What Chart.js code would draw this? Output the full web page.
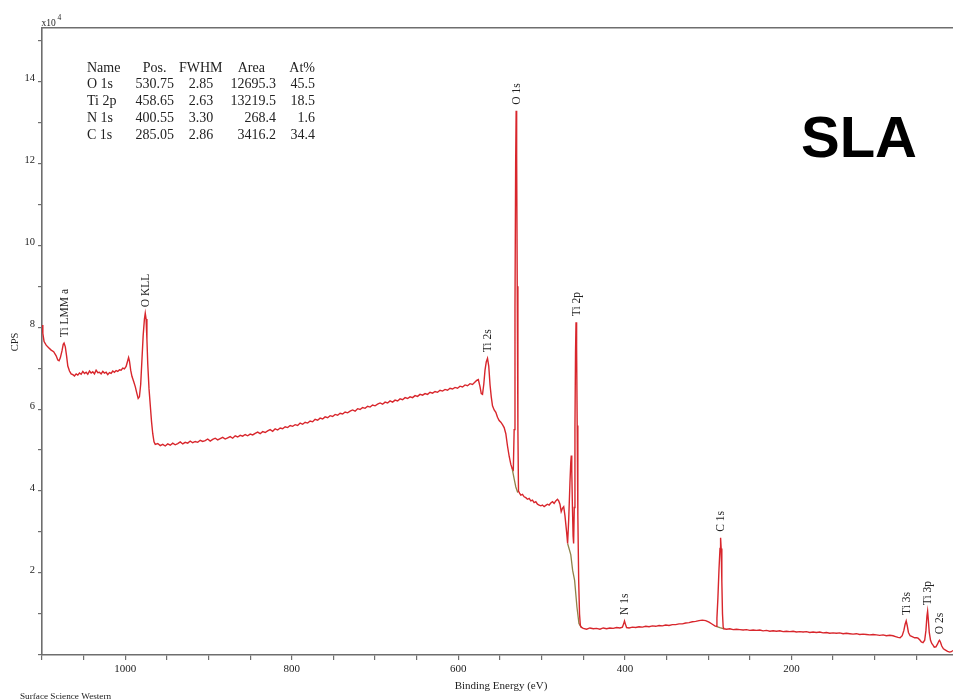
<!DOCTYPE html>
<html><head><meta charset="utf-8">
<script src="https://cdn.jsdelivr.net/npm/chart.js@4.4.0/dist/chart.umd.min.js"></script>
<style>html,body{margin:0;padding:0;background:#fff;} canvas{display:block;}</style>
</head><body>
<canvas id="c" width="953" height="700"></canvas>
<script>
// Binding energy (eV) and CPS (x10^4)
const energies = [
1100,1099,1097.5,1095,1092,1089,1086,1083,1081,1079.5,1078,1076,1074.5,1073.5,1072,1070.5,1069,1067,1065,1063,1061,1059,1057,1055,1053,1051,1049,1047,1045,1043,1041,1039,1037,1035,1033,1031,1029,1027,1025,1023,1021,1019,1017,1015,1013,1011,1009,1007,1005,1003,1001,999,997.5,996,995,993.5,992,990,988,986,984.5,983,981.5,980,978.5,977,976,975,974,973,971.5,970,968.5,967,965.5,964,
961,958,955,952,949,946,943,940,937,934,931,928,925,922,919,916,913,910,907,904,901,898,895,892,889,886,883,880,877,874,871,868,865,862,859,856,853,850,847,844,841,838,835,832,829,826,823,820,817,814,811,808,805,802,799,796,793,790,787,784,781,778,775,772,769,766,763,760,757,754,751,748,745,742,739,736,733,730,727,724,721,718,715,712,709,706,703,700,697,694,691,688,685,682,679,676,673,670,667,664,661,658,655,652,649,646,643,640,637,634,631,628,625,622,619,616,613,610,607,604,601,598,595,592,589,586,583,580,578,576,
574,572.5,571,569.5,568,566.5,565,563.5,562,560.5,559,557,555,553,551,549,547,545,543,541,539,537,535.5,534,
533,532,531.2,530.6,530,529.3,528.5,527.8,526.5,525,523,521,519,517,515,513,511,509,507,505,503,501,499,497,495,493,491,489,487,485,483,481,479.5,478,476.5,475,473.5,472,470,468.8,
467.5,466,465,464.4,463.8,463,462.2,461.6,460.8,460,459.3,458.7,458,457.3,456.5,455.5,454.5,453.5,452.5,
450,446,442,438,434,430,426,422,418,414,410,406,403,401.5,400.5,399.5,398,395,391,387,383,379,375,371,367,363,359,355,351,347,343,339,335,331,327,323,319,315,311,307,303,299,295,292,290.5,
289.5,288.3,287,285.8,285.1,284.4,283.6,282.8,282,281,278,274,270,266,262,258,254,250,246,242,238,234,230,226,222,218,214,210,206,202,198,194,190,186,182,178,174,170,166,162,158,154,150,146,142,138,134,130,126,122,118,114,110,106,102,98,94,90,86,82,78,75,72,69.5,
67,65,63.5,62.2,61,59.5,57.5,55,52,49.5,48,46,44,42,40,38.5,37.3,36.5,35.6,34.5,33,31.5,30,28.5,26.5,24.5,23,22.2,21,19.5,17.5,15,12.5,10,8,6
];
const cps = [
8.05,7.85,7.65,7.56,7.50,7.44,7.40,7.30,7.20,7.18,7.25,7.42,7.58,7.61,7.52,7.30,7.05,6.93,6.86,6.84,6.81,6.86,6.83,6.88,6.85,6.92,6.87,6.90,6.85,6.93,6.88,6.91,6.86,6.95,6.89,6.90,6.86,6.92,6.88,6.90,6.84,6.89,6.87,6.93,6.90,6.94,6.92,6.96,6.95,7.00,6.98,7.04,7.15,7.26,7.18,6.95,6.80,6.68,6.55,6.38,6.26,6.30,6.60,7.20,7.80,8.20,8.34,8.20,7.70,7.10,6.50,6.10,5.70,5.40,5.20,5.14,
5.16,5.11,5.14,5.10,5.15,5.12,5.17,5.13,5.16,5.20,5.15,5.19,5.17,5.22,5.18,5.21,5.19,5.24,5.21,5.23,5.27,5.22,5.26,5.29,5.25,5.28,5.31,5.27,5.30,5.33,5.29,5.35,5.32,5.36,5.34,5.38,5.35,5.39,5.37,5.41,5.44,5.40,5.45,5.43,5.47,5.50,5.46,5.52,5.49,5.54,5.52,5.57,5.55,5.60,5.58,5.62,5.60,5.66,5.63,5.68,5.66,5.71,5.69,5.75,5.73,5.78,5.76,5.81,5.79,5.84,5.82,5.87,5.85,5.90,5.88,5.93,5.91,5.95,5.98,5.95,6.01,5.99,6.04,6.02,6.07,6.05,6.10,6.08,6.12,6.15,6.12,6.17,6.15,6.20,6.17,6.22,6.20,6.25,6.23,6.28,6.26,6.30,6.28,6.33,6.31,6.36,6.34,6.38,6.36,6.41,6.39,6.43,6.41,6.46,6.44,6.48,6.46,6.51,6.49,6.53,6.51,6.56,6.54,6.59,6.57,6.62,6.60,6.66,6.70,6.72,
6.55,6.38,6.36,6.60,6.95,7.15,7.24,7.05,6.60,6.30,6.08,5.98,5.92,5.80,5.72,5.68,5.62,5.55,5.40,5.10,4.85,4.65,4.56,4.52,
5.5,8.5,12.0,13.28,12.2,9.0,5.5,4.00,3.95,3.90,3.92,3.86,3.84,3.80,3.82,3.76,3.78,3.72,3.74,3.68,3.66,3.64,3.66,3.62,3.65,3.68,3.66,3.71,3.74,3.70,3.76,3.80,3.76,3.68,3.50,3.58,3.62,3.40,3.00,2.72,
3.30,4.20,4.70,4.87,4.50,3.60,2.90,2.72,3.60,5.50,7.40,8.12,7.50,5.60,3.40,1.80,1.00,0.72,0.68,
0.65,0.63,0.66,0.64,0.65,0.63,0.66,0.64,0.66,0.65,0.67,0.66,0.68,0.76,0.83,0.76,0.67,0.66,0.68,0.67,0.69,0.68,0.70,0.69,0.71,0.70,0.72,0.71,0.73,0.72,0.74,0.74,0.76,0.76,0.78,0.79,0.81,0.82,0.84,0.85,0.84,0.80,0.75,0.71,0.70,
0.9,1.4,2.1,2.6,2.86,2.6,1.8,1.0,0.68,0.64,0.63,0.64,0.62,0.63,0.62,0.61,0.62,0.60,0.61,0.60,0.61,0.59,0.60,0.58,0.59,0.58,0.59,0.57,0.58,0.57,0.58,0.56,0.57,0.56,0.57,0.55,0.56,0.55,0.56,0.54,0.55,0.53,0.54,0.53,0.54,0.52,0.53,0.52,0.51,0.52,0.50,0.51,0.50,0.49,0.50,0.49,0.48,0.49,0.47,0.48,0.47,0.45,0.43,0.42,
0.47,0.60,0.75,0.83,0.72,0.55,0.47,0.45,0.42,0.42,0.41,0.37,0.32,0.30,0.36,0.60,0.95,1.07,0.85,0.55,0.36,0.28,0.24,0.19,0.20,0.27,0.34,0.36,0.31,0.22,0.15,0.12,0.09,0.07,0.08,0.11
];
// Shirley-type background segments (olive line), null = gap
const bgEnergies = [535.5,533,531,529,527.8,500,468.8,465,462.8,460.4,457.6,455.2,452.5,400,290.5,286,281];
const bgCps = [4.56,4.30,4.10,3.98,4.00,null,2.72,2.45,2.07,1.82,1.17,0.77,0.68,null,0.70,0.67,0.64];

// peak annotations
const peakNames = ["Ti LMM a","O KLL","Ti 2s","O 1s","Ti 2p","N 1s","C 1s","Ti 3s","Ti 3p","O 2s"];
const peakEnergies = [1073.5,976,565,530.6,458.7,400.5,285.1,62.2,36.5,22.2];
const peakCps = [7.61,8.34,7.24,13.28,8.12,0.83,2.86,0.83,1.07,0.36];

// quantification table
const tableHeader = ["Name","Pos.","FWHM","Area","At%"];
const tableNames = ["O 1s","Ti 2p","N 1s","C 1s"];
const tablePos = ["530.75","458.65","400.55","285.05"];
const tableFwhm = ["2.85","2.63","3.30","2.86"];
const tableArea = ["12695.3","13219.5","268.4","3416.2"];
const tableAt = ["45.5","18.5","1.6","34.4"];

const xTickLabels = [1000,800,600,400,200];
const yTickLabels = [2,4,6,8,10,12,14];

const SERIF = "'Liberation Serif', 'Times New Roman', serif";
const AXIS = '#6e6e6e';
const TXT = '#222';

const annotate = {
  id: 'annotate',
  afterDraw(chart) {
    const ctx = chart.ctx, xs = chart.scales.x, ys = chart.scales.y;
    ctx.save();
    ctx.fillStyle = TXT;
    // peak labels
    ctx.font = "11.5px " + SERIF;
    ctx.textAlign = 'left'; ctx.textBaseline = 'middle';
    peakNames.forEach((n, i) => {
      const px = xs.getPixelForValue(peakEnergies[i]);
      const py = ys.getPixelForValue(peakCps[i]) - 6;
      ctx.save(); ctx.translate(px, py); ctx.rotate(-Math.PI / 2);
      ctx.fillText(n, 0, 0.5); ctx.restore();
    });
    // table
    ctx.font = "14px " + SERIF;
    const rowsY = [68, 84.8, 101.6, 118.4, 135.2];
    ctx.textAlign = 'left';
    const hdrX = [87, 142.7, 179, 237.7, 289.3];
    tableHeader.forEach((h, i) => ctx.fillText(h, hdrX[i], rowsY[0]));
    const cols = [tablePos, tableFwhm, tableArea, tableAt];
    const rightX = [174, 213.3, 276, 315];
    tableNames.forEach((n, r) => {
      ctx.textAlign = 'left';
      ctx.fillText(n, 87, rowsY[r + 1]);
      ctx.textAlign = 'right';
      cols.forEach((c, k) => ctx.fillText(c[r], rightX[k], rowsY[r + 1]));
    });
    // axis titles
    ctx.textAlign = 'center';
    ctx.font = "11px " + SERIF;
    ctx.fillText("Binding Energy (eV)", 501, 686);
    ctx.save(); ctx.translate(15.5, 342); ctx.rotate(-Math.PI / 2);
    ctx.font = "10.5px " + SERIF; ctx.fillText("CPS", 0, 0); ctx.restore();
    ctx.textAlign = 'left'; ctx.textBaseline = 'alphabetic';
    ctx.font = "9.5px " + SERIF;
    ctx.fillText("x10", 41.5, 26);
    ctx.font = "7.5px " + SERIF;
    ctx.fillText("4", 57.5, 19.5);
    ctx.font = "9.2px " + SERIF;
    ctx.fillText("Surface Science Western", 20, 698.5);
    // SLA
    ctx.fillStyle = '#000';
    ctx.font = "bold 58px 'Liberation Sans', Arial, sans-serif";
    ctx.fillText("SLA", 801, 157);
    ctx.restore();
  }
};

new Chart(document.getElementById('c'), {
  type: 'line',
  data: {
    datasets: [
      { data: energies.map((e, i) => ({ x: e, y: cps[i] })), borderColor: '#d8262c', borderWidth: 1.4, pointRadius: 0, tension: 0, fill: false },
      { data: bgEnergies.map((e, i) => ({ x: e, y: bgCps[i] })), borderColor: '#8f8248', borderWidth: 1.3, pointRadius: 0, tension: 0, fill: false, spanGaps: false }
    ]
  },
  options: {
    responsive: false, animation: false, events: [],
    layout: { padding: 0 },
    plugins: { legend: { display: false }, tooltip: { enabled: false } },
    scales: {
      x: {
        type: 'linear', position: 'bottom', reverse: true, min: 6, max: 1100,
        ticks: { stepSize: 50, autoSkip: false, maxRotation: 0, includeBounds: false, padding: 3, color: TXT,
          font: { family: SERIF, size: 11 },
          callback: v => xTickLabels.includes(v) ? String(v) : '' },
        grid: { display: true, drawOnChartArea: false, drawTicks: true, tickLength: 5, color: AXIS, lineWidth: 1.2 },
        border: { display: true, color: AXIS, width: 1.6 },
        afterFit: s => { s.height = 45; }
      },
      x2: {
        type: 'linear', position: 'top', reverse: true, min: 6, max: 1100,
        ticks: { display: false }, grid: { display: false, drawTicks: false },
        border: { display: true, color: AXIS, width: 1.6 },
        afterFit: s => { s.height = 28; }
      },
      y: {
        type: 'linear', position: 'left', min: 0, max: 15.3,
        ticks: { stepSize: 1, autoSkip: false, includeBounds: false, padding: 3, labelOffset: -3, color: TXT,
          font: { family: SERIF, size: 10.5 },
          callback: v => yTickLabels.includes(v) ? String(v) : '' },
        grid: { display: true, drawOnChartArea: false, drawTicks: true, tickLength: 4, color: AXIS, lineWidth: 1.2 },
        border: { display: true, color: AXIS, width: 1.6 },
        afterFit: s => { s.width = 42; }
      }
    }
  },
  plugins: [annotate]
});
</script>
</body></html>
